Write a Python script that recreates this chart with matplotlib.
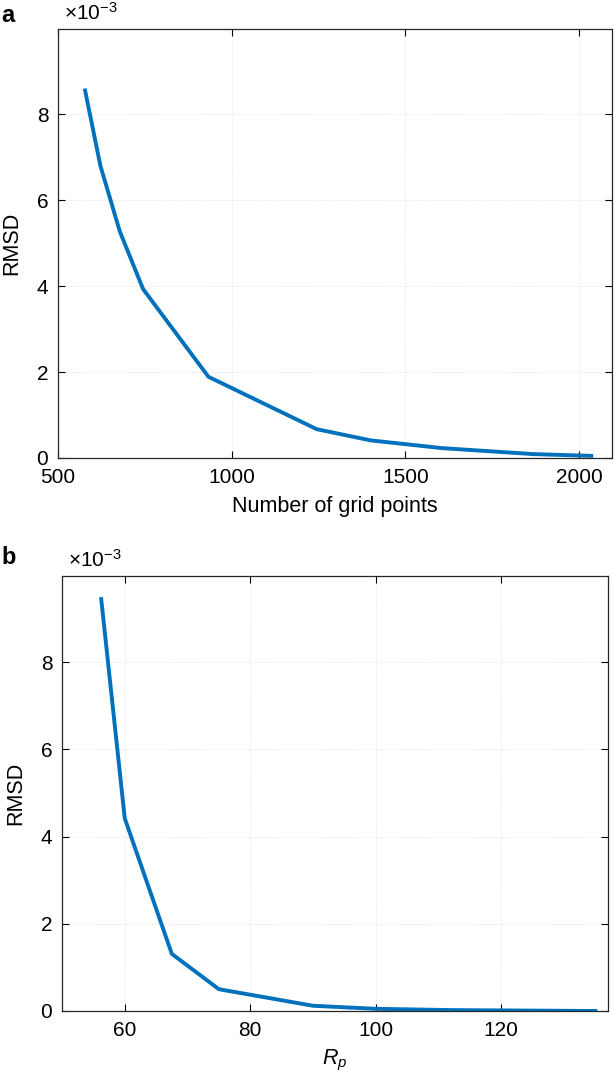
import matplotlib
matplotlib.use('Agg')
import matplotlib.pyplot as plt

plt.rcParams['font.family'] = ['Liberation Sans', 'DejaVu Sans']
plt.rcParams['mathtext.fontset'] = 'custom'
plt.rcParams['mathtext.it'] = 'Liberation Sans:italic'
plt.rcParams['mathtext.rm'] = 'Liberation Sans'

# Panel a: RMSD vs number of grid points
grid_points = [578, 622, 678, 745, 933, 1245, 1400, 1605, 1870, 2035]
rmsd_a = [8.55e-3, 6.80e-3, 5.27e-3, 3.93e-3, 1.89e-3, 0.67e-3, 0.41e-3, 0.23e-3, 0.09e-3, 0.05e-3]

# Panel b: RMSD vs R_p
rp = [56.25, 60, 67.5, 75, 90, 100, 112.5, 135]
rmsd_b = [9.45e-3, 4.42e-3, 1.31e-3, 0.50e-3, 0.12e-3, 0.05e-3, 0.02e-3, 0.0]

line_color = '#0072BD'
fs = 15
W, H = 614, 1074

fig = plt.figure(figsize=(W / 100, H / 100), dpi=100)
ax_a = fig.add_axes([58 / W, 1 - 458 / H, 554 / W, 429 / H])
ax_b = fig.add_axes([62 / W, 1 - 1011 / H, 546 / W, 435 / H])


def style(ax):
    ax.tick_params(direction='in', top=True, right=True, labelsize=fs, length=5, width=0.8, pad=7)
    ax.grid(True, linestyle=':', color='#cccccc', linewidth=0.7, alpha=0.6)
    for s in ax.spines.values():
        s.set_linewidth(0.9)
        s.set_color('#262626')
    ax.set_yticks([0, 2e-3, 4e-3, 6e-3, 8e-3])
    ax.set_yticklabels(['0', '2', '4', '6', '8'])
    ax.set_ylabel('RMSD', fontsize=15.5, labelpad=10)
    ax.annotate(r'$\times$10$^{-3}$', xy=(0, 1), xycoords='axes fraction',
                xytext=(4, 4), textcoords='offset points', fontsize=fs,
                ha='left', va='bottom')


ax_a.plot(grid_points, rmsd_a, color=line_color, linewidth=2.8)
ax_a.set_xlim(500, 2095)
ax_a.set_ylim(0, 0.00998)
ax_a.set_xticks([500, 1000, 1500, 2000])
ax_a.set_xlabel('Number of grid points', fontsize=15.5, labelpad=7)
style(ax_a)
fig.text(1 / W, 1 - 15 / H, 'a', fontsize=17, fontweight='bold', ha='left', va='center')

ax_b.plot(rp, rmsd_b, color=line_color, linewidth=2.8)
ax_b.set_xlim(50, 137)
ax_b.set_ylim(0, 0.00998)
ax_b.set_xticks([60, 80, 100, 120])
ax_b.set_xlabel('$R_p$', fontsize=15.5, labelpad=6)
style(ax_b)
fig.text(1 / W, 1 - 558 / H, 'b', fontsize=17, fontweight='bold', ha='left', va='center')

fig.savefig('out.png', dpi=100)
